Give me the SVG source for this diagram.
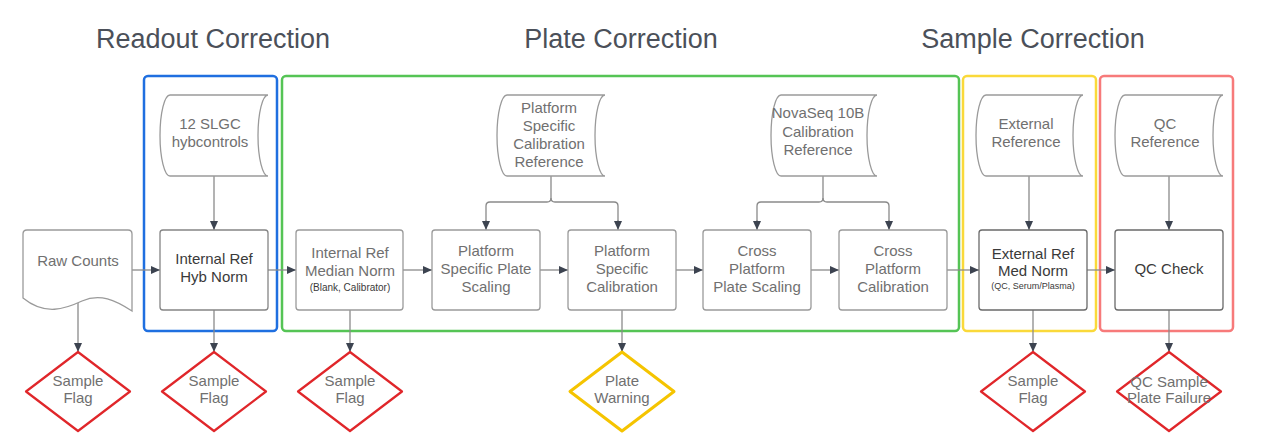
<svg xmlns="http://www.w3.org/2000/svg" width="1261" height="445" viewBox="0 0 1261 445">
<defs>
<marker id="arr" markerUnits="userSpaceOnUse" markerWidth="10" markerHeight="10" viewBox="0 0 10 10" refX="9" refY="5" orient="auto">
<path d="M0,1 L9,5 L0,9 Z" fill="#3c4350"/>
</marker>
</defs>
<style>
.title{font-family:"Liberation Sans",Arial,sans-serif;font-size:27px;fill:#4b5059;text-anchor:middle}
.t{font-family:"Liberation Sans",Arial,sans-serif;font-size:15px;fill:#707070;text-anchor:middle}
.td{font-family:"Liberation Sans",Arial,sans-serif;font-size:15px;fill:#3a3a3a;text-anchor:middle}
.ts{font-family:"Liberation Sans",Arial,sans-serif;font-size:10px;fill:#3a3a3a;text-anchor:middle}
.ts9{font-family:"Liberation Sans",Arial,sans-serif;font-size:9px;fill:#3a3a3a;text-anchor:middle}
.box{fill:#fff;stroke:#9a9a9a;stroke-width:1.3}
.boxm{fill:#fff;stroke:#858585;stroke-width:1.3}
.boxd{fill:#fff;stroke:#6a6a6a;stroke-width:1.3}
.cyl{fill:#fff;stroke:#9a9a9a;stroke-width:1.3}
.grp{fill:none;stroke-width:2.5}
.dr{fill:#fff;stroke:#e0262a;stroke-width:2.2;stroke-linejoin:round}
.dy{fill:#fff;stroke:#f5c400;stroke-width:3;stroke-linejoin:round}
.c{fill:none;stroke:#8a8a8a;stroke-width:1.3;marker-end:url(#arr)}
.cn{fill:none;stroke:#8a8a8a;stroke-width:1.3}
</style>

<text class="title" x="213" y="48">Readout Correction</text>
<text class="title" x="621" y="48">Plate Correction</text>
<text class="title" x="1033" y="48">Sample Correction</text>

<g id="groups">
<rect class="grp" x="144" y="76" width="133" height="255" rx="4" stroke="#1f6fe0"/>
<rect class="grp" x="282" y="76" width="677" height="255" rx="4" stroke="#55c455"/>
<rect class="grp" x="963" y="76" width="133" height="255" rx="4" stroke="#fad93a"/>
<rect class="grp" x="1100" y="76" width="133" height="255" rx="4" stroke="#f77a7a"/>
</g>

<g id="connectors">
<path class="c" d="M132,270 H160"/>
<path class="c" d="M268,270 H296"/>
<path class="c" d="M403,270 H432"/>
<path class="c" d="M540,270 H568"/>
<path class="c" d="M676,270 H703"/>
<path class="c" d="M811,270 H839"/>
<path class="c" d="M947,270 H979"/>
<path class="c" d="M1087,270 H1115"/>
<path class="c" d="M214,176 V230"/>
<path class="c" d="M1029,176 V230"/>
<path class="c" d="M1169,176 V230"/>
<path class="cn" d="M551,176 V198 Q551,202 547,202 H490 Q486,202 486,206 V222"/>
<path class="c" d="M486,220 V230"/>
<path class="cn" d="M551,198 Q551,202 555,202 H614 Q618,202 618,206 V222"/>
<path class="c" d="M618,220 V230"/>
<path class="cn" d="M823,176 V198 Q823,202 819,202 H761 Q757,202 757,206 V222"/>
<path class="c" d="M757,220 V230"/>
<path class="cn" d="M823,198 Q823,202 827,202 H885 Q889,202 889,206 V222"/>
<path class="c" d="M889,220 V230"/>
<path class="c" d="M78,303 V352"/>
<path class="c" d="M214,310 V352"/>
<path class="c" d="M350,310 V352"/>
<path class="c" d="M622,310 V352"/>
<path class="c" d="M1033,310 V352"/>
<path class="c" d="M1169,310 V352"/>
</g>

<g id="raw-counts">
<path class="box" d="M27,230 H128 Q132,230 132,234 V311 C115,300 100,293 82,301 C65,309 45,316 23,298 V234 Q23,230 27,230 Z"/>
<text class="t" x="78" y="266">Raw Counts</text>
</g>

<g id="slgc">
<path class="cyl" d="M268,95 H170 A10,40.5 0 0 0 170,176 H268 A10,40.5 0 0 1 268,95 Z"/>
<text class="t" x="210" y="129">12 SLGC</text>
<text class="t" x="210" y="147">hybcontrols</text>
</g>

<g id="hyb-norm">
<rect class="boxm" x="160" y="230" width="108" height="80" rx="3"/>
<text class="td" x="214" y="264">Internal Ref</text>
<text class="td" x="214" y="282">Hyb Norm</text>
</g>

<g id="median-norm">
<rect class="box" x="296" y="230" width="107" height="80" rx="3"/>
<text class="t" x="350" y="258">Internal Ref</text>
<text class="t" x="350" y="276">Median Norm</text>
<text class="ts" x="350" y="291">(Blank, Calibrator)</text>
</g>

<g id="ps-ref">
<path class="cyl" d="M605,95 H507 A10,40.5 0 0 0 507,176 H605 A10,40.5 0 0 1 605,95 Z"/>
<text class="t" x="549" y="113">Platform</text>
<text class="t" x="549" y="131">Specific</text>
<text class="t" x="549" y="149">Calibration</text>
<text class="t" x="549" y="167">Reference</text>
</g>

<g id="ps-scaling">
<rect class="box" x="432" y="230" width="108" height="80" rx="3"/>
<text class="t" x="486" y="256">Platform</text>
<text class="t" x="486" y="274">Specific Plate</text>
<text class="t" x="486" y="292">Scaling</text>
</g>

<g id="ps-calibration">
<rect class="box" x="568" y="230" width="108" height="80" rx="3"/>
<text class="t" x="622" y="256">Platform</text>
<text class="t" x="622" y="274">Specific</text>
<text class="t" x="622" y="292">Calibration</text>
</g>

<g id="novaseq-ref">
<path class="cyl" d="M877,95 H781 A10,40.5 0 0 0 781,176 H877 A10,40.5 0 0 1 877,95 Z"/>
<text class="t" x="818" y="118">NovaSeq 10B</text>
<text class="t" x="818" y="137">Calibration</text>
<text class="t" x="818" y="155">Reference</text>
</g>

<g id="cross-scaling">
<rect class="box" x="703" y="230" width="108" height="80" rx="3"/>
<text class="t" x="757" y="256">Cross</text>
<text class="t" x="757" y="274">Platform</text>
<text class="t" x="757" y="292">Plate Scaling</text>
</g>

<g id="cross-calibration">
<rect class="box" x="839" y="230" width="108" height="80" rx="3"/>
<text class="t" x="893" y="256">Cross</text>
<text class="t" x="893" y="274">Platform</text>
<text class="t" x="893" y="292">Calibration</text>
</g>

<g id="ext-ref">
<path class="cyl" d="M1083,95 H986 A10,40.5 0 0 0 986,176 H1083 A10,40.5 0 0 1 1083,95 Z"/>
<text class="t" x="1026" y="129">External</text>
<text class="t" x="1026" y="147">Reference</text>
</g>

<g id="ext-norm">
<rect class="boxd" x="979" y="230" width="108" height="80" rx="3"/>
<text class="td" x="1033" y="259">External Ref</text>
<text class="td" x="1033" y="276">Med Norm</text>
<text class="ts9" x="1033" y="289">(QC, Serum/Plasma)</text>
</g>

<g id="qc-ref">
<path class="cyl" d="M1223,95 H1125 A10,40.5 0 0 0 1125,176 H1223 A10,40.5 0 0 1 1223,95 Z"/>
<text class="t" x="1165" y="129">QC</text>
<text class="t" x="1165" y="147">Reference</text>
</g>

<g id="qc-check">
<rect class="boxd" x="1115" y="230" width="108" height="80" rx="3"/>
<text class="td" x="1169" y="274">QC Check</text>
</g>

<g id="flag1">
<path class="dr" d="M78,352 L130,391.5 L78,431 L26,391.5 Z"/>
<text class="t" x="78" y="386">Sample</text>
<text class="t" x="78" y="403">Flag</text>
</g>
<g id="flag2">
<path class="dr" d="M214,352 L266,391.5 L214,431 L162,391.5 Z"/>
<text class="t" x="214" y="386">Sample</text>
<text class="t" x="214" y="403">Flag</text>
</g>
<g id="flag3">
<path class="dr" d="M350,352 L402,391.5 L350,431 L298,391.5 Z"/>
<text class="t" x="350" y="386">Sample</text>
<text class="t" x="350" y="403">Flag</text>
</g>
<g id="plate-warning">
<path class="dy" d="M622,352 L674,391.5 L622,431 L570,391.5 Z"/>
<text class="t" x="622" y="386">Plate</text>
<text class="t" x="622" y="403">Warning</text>
</g>
<g id="flag4">
<path class="dr" d="M1033,352 L1085,391.5 L1033,431 L981,391.5 Z"/>
<text class="t" x="1033" y="386">Sample</text>
<text class="t" x="1033" y="403">Flag</text>
</g>
<g id="qc-failure">
<path class="dr" d="M1169,352 L1221,391.5 L1169,431 L1117,391.5 Z"/>
<text class="t" x="1169" y="387">QC Sample</text>
<text class="t" x="1169" y="403">Plate Failure</text>
</g>
</svg>
